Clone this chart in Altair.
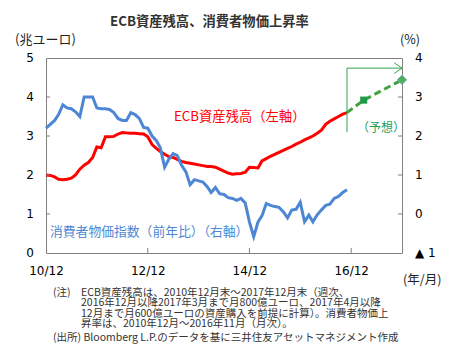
import altair as alt
import pandas as pd

# ---------------- data ----------------
months = pd.date_range("2010-12-01", periods=72, freq="MS").strftime("%Y-%m-%d").tolist()

# ECB total assets (trillion EUR), left axis
ecb_assets = [
    2.00, 1.99, 1.95, 1.89, 1.88, 1.89, 1.92, 2.00, 2.15, 2.25, 2.32, 2.45,
    2.72, 2.70, 2.98, 2.98, 2.99, 3.05, 3.09, 3.08, 3.07, 3.07, 3.06, 3.05,
    2.98, 2.78, 2.68, 2.60, 2.53, 2.47, 2.45, 2.40, 2.35, 2.32, 2.30, 2.28,
    2.26, 2.24, 2.22, 2.22, 2.20, 2.15, 2.10, 2.05, 2.02, 2.03, 2.04, 2.07,
    2.20, 2.19, 2.18, 2.36, 2.42, 2.48, 2.53, 2.58, 2.63, 2.68, 2.73, 2.79,
    2.84, 2.90, 2.95, 3.00, 3.07, 3.15, 3.30, 3.38, 3.44, 3.50, 3.56, 3.60,
]
# Consumer price index YoY (%), right axis
cpi_yoy = [
    2.20, 2.30, 2.40, 2.55, 2.80, 2.72, 2.70, 2.62, 2.50, 3.00, 3.00, 3.00,
    2.72, 2.70, 2.70, 2.68, 2.60, 2.45, 2.40, 2.40, 2.60, 2.55, 2.45, 2.22,
    2.20, 2.00, 1.88, 1.70, 1.20, 1.40, 1.55, 1.50, 1.25, 1.08, 0.75, 0.88,
    0.85, 0.82, 0.70, 0.55, 0.68, 0.52, 0.50, 0.42, 0.40, 0.35, 0.40, 0.28,
    -0.20, -0.58, -0.20, -0.05, 0.27, 0.22, 0.19, 0.17, 0.06, -0.10, 0.10, 0.12,
    0.30, -0.20, -0.03, -0.20, -0.02, 0.10, 0.22, 0.25, 0.40, 0.45, 0.55, 0.62,
]
# forecast of ECB assets
fc_dates = ["2016-11-01", "2017-03-01", "2017-12-01"]
fc_values = [3.60, 3.92, 4.44]
# forecast bracket
bracket_dates = ["2016-11-01", "2017-12-01"]
bracket_top = 4.74
bracket_bottom = 3.10

x_tick_dates = ["2010-12-01", "2012-12-01", "2014-12-01", "2016-12-01"]
left_tick_values = [0, 1, 2, 3, 4, 5]
left_tick_labels = ["0", "1", "2", "3", "4", "5"]
right_tick_values = [-1, 0, 1, 2, 3, 4]
right_tick_labels = ["▲ 1", "0", "1", "2", "3", "4"]

title_text = "ECB資産残高、消費者物価上昇率"
left_unit = "(兆ユーロ)"
right_unit = "(%)"
x_unit = "(年/月)"
ecb_label = "ECB資産残高（左軸）"
cpi_label = "消費者物価指数（前年比）（右軸）"
fc_label = "（予想）"
note_head = "(注)"
note_lines = [
    "ECB資産残高は、2010年12月末～2017年12月末（週次、",
    "2016年12月以降2017年3月まで月800億ユーロ、2017年4月以降",
    "12月まで月600億ユーロの資産購入を前提に計算）。消費者物価上",
    "昇率は、2010年12月～2016年11月（月次）。",
]
source_line = "(出所) Bloomberg L.P.のデータを基に三井住友アセットマネジメント作成"

# ---------------- style ----------------
W, H = 356, 195
JP = "Noto Sans CJK JP"
NUM = "DejaVu Sans"
RED = "#ff0000"
BLUE = "#4d87d4"
GREEN = "#3ea33e"
GREEN_DARK = "#1f9a45"
BRACKET = "#2ea44f"
FRAME = "#808080"
NOTE = "#333333"


def dt(s):
    y, m, d = map(int, s.split("-"))
    return alt.DateTime(year=y, month=m, date=d, utc=True)


xscale = alt.Scale(type="utc", domain=[dt("2010-12-01"), dt("2017-12-01")])
lscale = alt.Scale(domain=[0, 5], nice=False, zero=False)
rscale = alt.Scale(domain=[-1, 4], nice=False, zero=False)

main = pd.DataFrame({"date": months, "ecb": ecb_assets, "cpi": cpi_yoy})
fc = pd.DataFrame({"date": fc_dates, "v": fc_values})

x_axis = alt.Axis(values=[dt(d) for d in x_tick_dates], format="%y/%m", ticks=False,
                  domain=False, grid=False, labelPadding=12, title=None,
                  labelOverlap=False, labelFlush=False)

X = lambda f: alt.X(f, scale=xscale)
YL = lambda f: alt.Y(f, scale=lscale, axis=None)
YR = lambda f: alt.Y(f, scale=rscale, axis=None)

red = alt.Chart(main).mark_line(color=RED, strokeWidth=3).encode(
    x=alt.X("date:T", scale=xscale, axis=x_axis),
    y=YL("ecb:Q"),
)

dash = alt.Chart(fc).mark_line(color=GREEN, strokeWidth=3, strokeDash=[7, 4]).encode(
    x=X("date:T"), y=YL("v:Q"),
)
square = alt.Chart(fc.iloc[[1]]).mark_point(
    shape="square", filled=True, size=50, color=GREEN_DARK, opacity=1
).encode(x=X("date:T"), y=YL("v:Q"))
diamond = alt.Chart(fc.iloc[[2]]).mark_point(
    shape="diamond", filled=True, size=90, fill="#4caf50", stroke="#7fb0e0",
    strokeWidth=1, opacity=1
).encode(x=X("date:T"), y=YL("v:Q"))

vrule = alt.Chart(pd.DataFrame({"date": [bracket_dates[0]], "y1": [bracket_bottom], "y2": [bracket_top]})).mark_rule(
    color=BRACKET, strokeWidth=1
).encode(x=X("date:T"), y=YL("y1:Q"), y2="y2:Q")
hrule = alt.Chart(pd.DataFrame({"d1": [bracket_dates[0]], "d2": [bracket_dates[1]], "y": [bracket_top]})).mark_rule(
    color=BRACKET, strokeWidth=1
).encode(x=X("d1:T"), x2="d2:T", y=YL("y:Q"))
arrow = alt.Chart(pd.DataFrame({"date": [bracket_dates[1]], "y": [bracket_top]})).mark_point(
    shape="M-1.45,-1L0,0L-1.45,1", filled=False, size=112, color=BRACKET, strokeWidth=1, opacity=1
).encode(x=X("date:T"), y=YL("y:Q"))

left_ticks = alt.Chart(pd.DataFrame({"v": left_tick_values[1:-1]})).mark_rule(color=FRAME).encode(
    y=YL("v:Q"), x=alt.value(0), x2=alt.value(4)
)
bottom_ticks = alt.Chart(pd.DataFrame({"date": x_tick_dates[1:]})).mark_rule(color=FRAME).encode(
    x=X("date:T"), y=alt.value(H), y2=alt.value(H - 5)
)
left_labels = alt.Chart(pd.DataFrame({"v": left_tick_values, "lab": left_tick_labels})).mark_text(
    font=NUM, fontSize=12, color="#000000", align="right", baseline="middle"
).encode(y=YL("v:Q"), text="lab:N", x=alt.value(-12))


def label(text, x, y, size=12, color="#000000", bold=False, align="left",
          baseline="middle", font=JP, line_height=None):
    kw = {}
    if line_height is not None:
        kw = {"lineBreak": "\n", "lineHeight": line_height}
    return alt.Chart(pd.DataFrame({"t": [text]})).mark_text(
        font=font, fontSize=size, color=color, fontWeight="bold" if bold else "normal",
        align=align, baseline=baseline, **kw
    ).encode(text="t:N", x=alt.value(x), y=alt.value(y))


texts = [
    label(title_text, 64, -36, size=13.3, color="#333333", bold=True),
    label(left_unit, -31, -18, size=13, color="#222222"),
    label(right_unit, 354, -18, size=12.5, color="#222222"),
    label(x_unit, 357, 222, size=12.5, color="#222222"),
    label(ecb_label, 128, 59, size=13.3, color=RED),
    label(cpi_label, 4, 174, size=12.8, color=BLUE),
    label(fc_label, 311, 70, size=12, color="#22a05a"),
    label(note_head, 7, 235, size=10.5, color=NOTE),
    label("\n".join(note_lines), 35, 230, size=10.5, color=NOTE,
          baseline="top", line_height=10.3),
    label(source_line, 7, 280, size=10.5, color=NOTE),
]

left_layer = alt.layer(red, dash, square, diamond, vrule, hrule, arrow,
                       left_ticks, bottom_ticks, left_labels, *texts)

blue = alt.Chart(main).mark_line(color=BLUE, strokeWidth=3).encode(
    x=X("date:T"),
    y=YR("cpi:Q"),
)
right_ticks = alt.Chart(pd.DataFrame({"v": right_tick_values[1:-1]})).mark_rule(color=FRAME).encode(
    y=YR("v:Q"), x=alt.value(W - 4), x2=alt.value(W)
)
right_labels = alt.Chart(pd.DataFrame({"v": right_tick_values, "lab": right_tick_labels})).mark_text(
    font=NUM, fontSize=12, color="#000000", align="left", baseline="middle"
).encode(y=YR("v:Q"), text="lab:N", x=alt.value(W + 13))
right_layer = alt.layer(blue, right_ticks, right_labels)

chart = alt.layer(left_layer, right_layer).resolve_scale(y="independent").properties(
    width=W, height=H,
    padding={"left": 46, "top": 58, "right": 54, "bottom": 104},
    autosize=alt.AutoSizeParams(type="none"),
    background="white",
).configure_view(stroke=FRAME, strokeWidth=1).configure_axis(
    labelFont=NUM, labelFontSize=12, labelColor="#000000"
)

chart.save("out.html", embed_options={"renderer": "svg", "actions": False})
